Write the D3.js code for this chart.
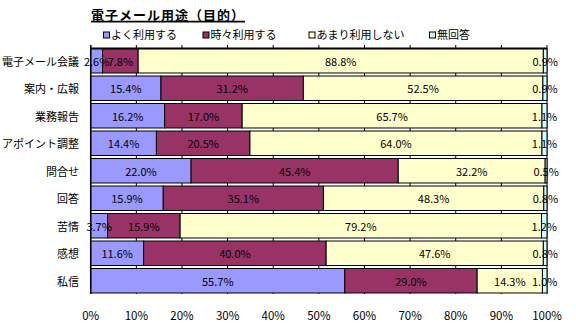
<!DOCTYPE html>
<html><head><meta charset="utf-8">
<script src="https://cdn.jsdelivr.net/npm/d3@7/dist/d3.min.js"></script>
<style>
html,body{margin:0;padding:0;background:#fff;}
text{font-family:"Noto Sans CJK JP","Noto Sans",sans-serif;}
</style></head>
<body>
<svg id="c" width="576" height="334"></svg>
<script>
const title = "電子メール用途（目的）";
const categories = ["電子メール会議","案内・広報","業務報告","アポイント調整","問合せ","回答","苦情","感想","私信"];
const seriesNames = ["よく利用する","時々利用する","あまり利用しない","無回答"];
const often = [2.6,15.4,16.2,14.4,22.0,15.9,3.7,11.6,55.7];
const sometimes = [7.8,31.2,17.0,20.5,45.4,35.1,15.9,40.0,29.0];
const rarely = [88.8,52.5,65.7,64.0,32.2,48.3,79.2,47.6,14.3];
const noAnswer = [0.9,0.9,1.1,1.1,0.5,0.8,1.2,0.8,1.0];
const xTicks = [0,10,20,30,40,50,60,70,80,90,100];
const colors = ["#9999FF","#993366","#FFFFCC","#CCFFFF"];

const seriesValues = [often, sometimes, rarely, noAnswer];
const svg = d3.select("#c");
const x = d3.scaleLinear().domain([0,100]).range([90.7,547]);
const y = d3.scaleBand().domain(categories).range([47,294.5]).paddingInner(0.11).paddingOuter(0.055);
const plotTop = 45, plotBottom = 294;

// title
svg.append("text").attr("x",91).attr("y",20).attr("font-size",13).attr("font-weight","bold")
  .attr("letter-spacing","1px").attr("text-decoration","underline").text(title);
svg.append("line").attr("x1",91).attr("x2",245).attr("y1",21.5).attr("y2",21.5).attr("stroke","#000").attr("stroke-width",1.5);

// legend
const legX = [103.5, 203, 309, 429.5];
seriesNames.forEach((n,i)=>{
  svg.append("rect").attr("x",legX[i]).attr("y",32).attr("width",6).attr("height",6)
    .attr("fill",colors[i]).attr("stroke","#000").attr("stroke-width",1);
  svg.append("text").attr("x",legX[i]+7.5).attr("y",35).attr("dy","0.35em").attr("font-size",11).text(n);
});

// gridlines
svg.append("g").selectAll("line").data(xTicks).join("line")
  .attr("x1",d=>x(d)).attr("x2",d=>x(d)).attr("y1",plotTop).attr("y2",plotBottom)
  .attr("stroke","#000").attr("stroke-width",1);

// stacked bars
const stackData = categories.map((c,i)=>{
  let acc=0;
  return seriesValues.map((s,k)=>{ const v=s[i]; const o={c,k,v,x0:acc,x1:Math.min(100,acc+v)}; acc+=v; return o;});
});
const segs = stackData.flat();
svg.append("g").selectAll("rect").data(segs).join("rect")
  .attr("x",d=>x(d.x0)).attr("width",d=>Math.max(0,x(d.x1)-x(d.x0)))
  .attr("y",d=>y(d.c)).attr("height",y.bandwidth())
  .attr("fill",d=>colors[d.k]).attr("stroke","#000").attr("stroke-width",1);

svg.append("g").selectAll("text").data(segs).join("text")
  .attr("x",d=>(x(d.x0)+x(d.x1))/2).attr("y",d=>y(d.c)+y.bandwidth()/2+1)
  .attr("dy","0.35em").attr("text-anchor","middle").attr("font-size",11)
  .text(d=>d.v.toFixed(1)+"%");

// left axis line
svg.append("line").attr("x1",x(0)).attr("x2",x(0)).attr("y1",plotTop).attr("y2",plotBottom).attr("stroke","#000").attr("stroke-width",1.5);
svg.append("line").attr("x1",x(0)).attr("x2",x(100)).attr("y1",y(categories[0])).attr("y2",y(categories[0])).attr("stroke","#000").attr("stroke-width",2);

// category labels
svg.append("g").selectAll("text").data(categories).join("text")
  .attr("x",79).attr("y",d=>y(d)+y.bandwidth()/2+1).attr("dy","0.35em")
  .attr("text-anchor","end").attr("font-size",11).text(d=>d);

// x tick labels
svg.append("g").selectAll("text").data(xTicks).join("text")
  .attr("x",d=>x(d)).attr("y",316).attr("dy","0.35em").attr("text-anchor","middle")
  .attr("font-size",11.5).text(d=>d+"%");
</script>
</body></html>
